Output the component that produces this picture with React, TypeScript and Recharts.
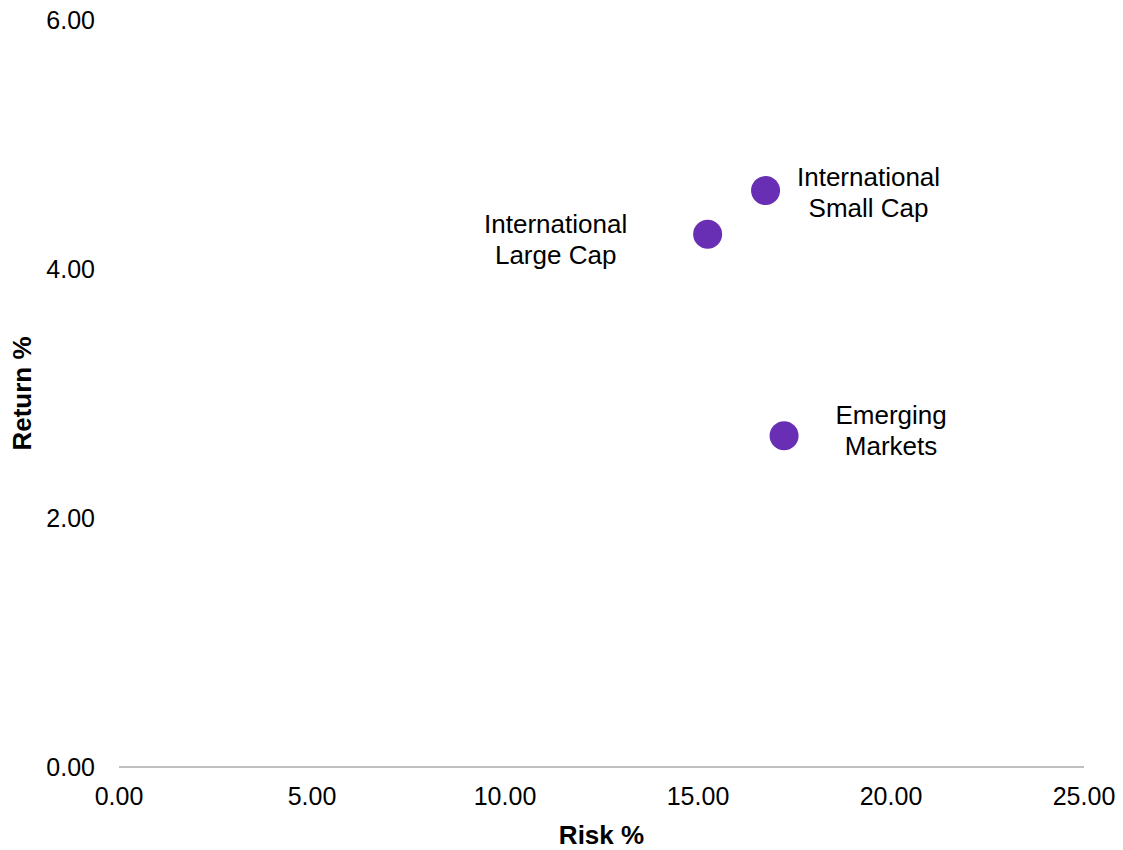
import React from 'react';
import { ScatterChart, Scatter, XAxis, YAxis, Label } from 'recharts';

const names = ['International Large Cap', 'International Small Cap', 'Emerging Markets'];
const riskValues = [15.25, 16.75, 17.23];
const returnValues = [4.28, 4.63, 2.66];
const xTicks = [0, 5, 10, 15, 20, 25];
const yTicks = [0, 2, 4, 6];

const labelLines: Record<string, string[]> = {
  'International Large Cap': ['International', 'Large Cap'],
  'International Small Cap': ['International', 'Small Cap'],
  'Emerging Markets': ['Emerging', 'Markets'],
};
// label placement relative to the marker (layout only)
const labelOffsets: Record<string, { dx: number; dy: number }> = {
  'International Large Cap': { dx: -152, dy: -10 },
  'International Small Cap': { dx: 103, dy: -14 },
  'Emerging Markets': { dx: 107, dy: -21 },
};

const data = names.map((n, i) => ({ name: n, risk: riskValues[i], ret: returnValues[i] }));

const PURPLE = '#682EB4';
const FONT = '"Liberation Sans", Arial, sans-serif';

const PointShape = (props: any) => {
  const { cx, cy, payload } = props;
  const lines = labelLines[payload.name];
  const off = labelOffsets[payload.name];
  return (
    <g>
      <circle cx={cx} cy={cy} r={14.5} fill={PURPLE} />
      {lines.map((l, i) => (
        <text
          key={i}
          x={cx + off.dx}
          y={cy + off.dy + i * 31}
          textAnchor="middle"
          dominantBaseline="central"
          fontSize={26}
          fontFamily={FONT}
          fill="#000"
        >
          {l}
        </text>
      ))}
    </g>
  );
};

export default function App() {
  return (
    <div style={{ position: 'absolute', left: 0, top: 0, background: '#fff' }}>
      <ScatterChart width={1123} height={850} margin={{ top: 20, right: 39, bottom: 0, left: 39 }}>
        <XAxis
          type="number"
          dataKey="risk"
          domain={[0, 25]}
          ticks={xTicks}
          tickFormatter={(v: number) => v.toFixed(2)}
          axisLine={{ stroke: '#808080', strokeWidth: 1 }}
          tickLine={false}
          tick={{ fontSize: 25, fontFamily: FONT, fill: '#000' }}
          tickMargin={14}
          height={83}
          interval={0}
        >
          <Label
            content={(p: any) => {
              const vb = p.viewBox;
              return (
                <text
                  x={vb.x + vb.width / 2}
                  y={835}
                  textAnchor="middle"
                  dominantBaseline="central"
                  fontSize={26}
                  fontWeight="bold"
                  fontFamily={FONT}
                  fill="#000"
                >
                  Risk %
                </text>
              );
            }}
          />
        </XAxis>
        <YAxis
          type="number"
          dataKey="ret"
          domain={[0, 6]}
          ticks={yTicks}
          tickFormatter={(v: number) => v.toFixed(2)}
          axisLine={false}
          tickLine={false}
          tick={{ fontSize: 25, fontFamily: FONT, fill: '#000' }}
          tickMargin={18}
          width={80}
          interval={0}
        >
          <Label
            content={(p: any) => {
              const vb = p.viewBox;
              const cy = vb.y + vb.height / 2;
              return (
                <text
                  x={22}
                  y={cy}
                  transform={`rotate(-90, 22, ${cy})`}
                  textAnchor="middle"
                  dominantBaseline="central"
                  fontSize={26}
                  fontWeight="bold"
                  fontFamily={FONT}
                  fill="#000"
                >
                  Return %
                </text>
              );
            }}
          />
        </YAxis>
        <Scatter data={data} shape={PointShape} isAnimationActive={false} />
      </ScatterChart>
    </div>
  );
}
